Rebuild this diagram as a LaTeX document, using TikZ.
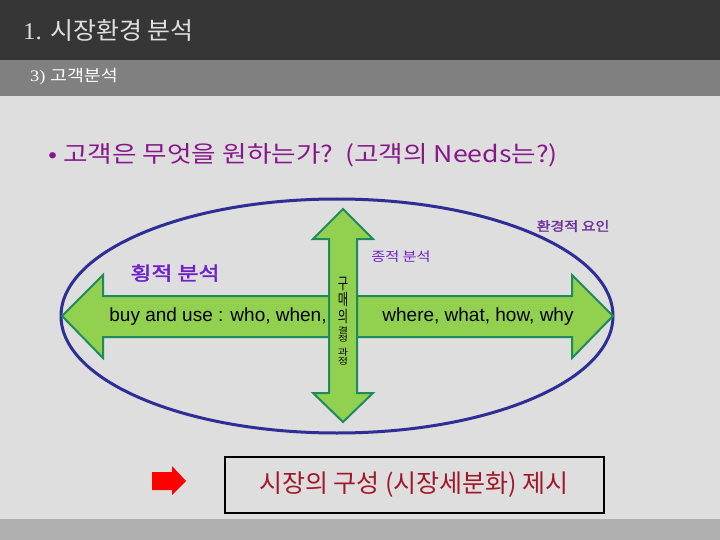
\documentclass[tikz,border=0pt]{standalone}
\usepackage{fontspec}
\setmainfont{Liberation Serif}
\newfontfamily\kor[AutoFakeBold=2]{Noto Sans CJK KR}
\newfontfamily\arial{Liberation Sans}
\definecolor{topbar}{HTML}{363636}
\definecolor{subbar}{HTML}{808080}
\definecolor{paper}{HTML}{DEDEDE}
\definecolor{footbar}{HTML}{B0B0B0}
\definecolor{needs}{HTML}{86168A}
\definecolor{violet}{HTML}{6E22C8}
\definecolor{envtxt}{HTML}{7030A0}
\definecolor{rim}{HTML}{2E2E96}
\definecolor{leaf}{HTML}{92D050}
\definecolor{leafedge}{HTML}{1E8A5E}
\definecolor{wine}{HTML}{A0182A}
\begin{document}
\begin{tikzpicture}[x=1pt,y=-1pt,
  blockarrow/.style={fill=leaf,draw=leafedge,line width=2pt,line join=miter},
  chr/.style={inner sep=0pt,font=\kor\fontsize{16}{16}\selectfont}]
\useasboundingbox (0,0) rectangle (720,540);

% background
\fill[paper] (0,0) rectangle (720,540);
\fill[topbar] (0,0) rectangle (720,60);
\fill[subbar] (0,60) rectangle (720,96);
\fill[footbar] (0,519) rectangle (720,540);

% headings
\node[anchor=west,text=white!88!black,inner sep=0pt] (title) at (23,30)
  {\scalebox{1.04}[1]{\fontsize{24}{26}\selectfont 1. {\kor 시장환경 분석}}};
\node[anchor=west,text=white,inner sep=0pt] (sub) at (30,77)
  {\scalebox{1.15}[1]{\fontsize{16}{18}\selectfont 3) {\kor 고객분석}}};
\node[anchor=west,text=needs,inner sep=0pt] (needs) at (48,155)
  {\scalebox{1.16}[1]{\kor\fontsize{23}{26}\selectfont • 고객은 무엇을 원하는가?\ \ (고객의 Needs는?)}};

% ellipse
\draw[rim,line width=3pt] (337,316) ellipse [x radius=276,y radius=117];

% arrows
\draw[blockarrow] (62,316) -- (103,275) -- (103,296) -- (572,296) -- (572,275)
  -- (613,316) -- (572,358) -- (572,337) -- (103,337) -- (103,358) -- cycle;
\draw[blockarrow] (343,209) -- (373,239) -- (357,239) -- (357,393) -- (373,393)
  -- (343,422) -- (313,393) -- (329,393) -- (329,239) -- (313,239) -- cycle;

% labels
\node[text=envtxt,font=\kor\bfseries] (env) at (573,226)
  {\scalebox{1.16}[1]{\fontsize{13}{13}\selectfont 환경적 요인}};
\node[text=violet,font=\kor] (vert) at (401,257)
  {\scalebox{1.17}[1]{\fontsize{13}{13}\selectfont 종적 분석}};
\node[text=violet,font=\kor\bfseries] (horiz) at (175,273)
  {\scalebox{1.2}[1]{\fontsize{19}{19}\selectfont 횡적 분석}};
\node[font=\arial] (who) at (218,317) {\fontsize{19}{19}\selectfont buy and use : who, when,};
\node[font=\arial] (why) at (478,317) {\fontsize{19}{19}\selectfont where, what, how, why};

% stacked text
\node[chr] (c1) at (343,284) {\scalebox{0.7}[1]{구}};
\node[chr] (c2) at (343,299.5) {\scalebox{0.7}[1]{매}};
\node[chr] (c3) at (343,317) {\scalebox{0.7}[1]{의}};
\node[chr] (c4) at (343,330.5) {\scalebox{0.7}[0.5]{결}};
\node[chr] (c5) at (343,338.5) {\scalebox{0.7}[0.5]{정}};
\node[chr] (c6) at (343,352) {\scalebox{0.7}[0.55]{과}};
\node[chr] (c7) at (343,361) {\scalebox{0.7}[0.55]{정}};

% result
\fill[red] (152,472) -- (172,472) -- (172,466) -- (186,481) -- (172,495)
  -- (172,490) -- (152,490) -- cycle;
\node[draw=black,line width=2pt,minimum width=379pt,minimum height=56pt,
  text=wine,font=\kor] (seg) at (414,485)
  {\fontsize{25}{25}\selectfont 시장의 구성 (시장세분화) 제시};

\end{tikzpicture}
\end{document}
